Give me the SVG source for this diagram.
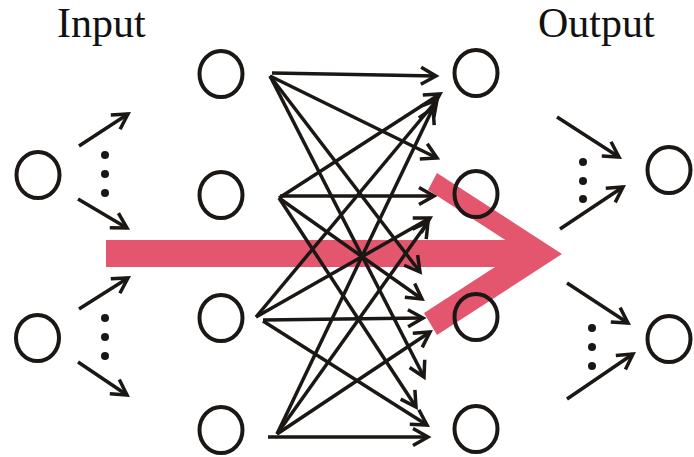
<svg xmlns="http://www.w3.org/2000/svg" width="694" height="457" viewBox="0 0 694 457">
  <style>
    .node { fill: none; stroke: #1b1714; stroke-width: 4; }
    .edge { fill: none; stroke: #1b1714; stroke-width: 3.5; stroke-linecap: butt; marker-end: url(#head); }
    .dot { fill: #1b1714; }
    .label { font-family: "Liberation Serif", "Times New Roman", serif; font-size: 42px; fill: #111; }
    .flow { fill: #e4566e; }
  </style>
  <defs>
    <marker id="head" markerUnits="userSpaceOnUse" markerWidth="30" markerHeight="30" viewBox="-20 -15 30 30" refX="0" refY="0" orient="auto" overflow="visible">
      <path d="M-15,-8.5 L0,0 L-15,8.5" fill="none" stroke="#1b1714" stroke-width="3.5" stroke-linejoin="miter"/>
    </marker>
  </defs>
  <rect width="694" height="457" fill="#fff"/>

  <!-- broad data-flow arrow behind the network -->
  <g id="flow-arrow" class="flow">
    <rect x="106" y="240" width="426" height="27"/>
    <polygon points="437,173 562,254 527,254 428,190"/>
    <polygon points="437,335 562,254 515,254 424,313"/>
  </g>

  <!-- labels -->
  <text class="label" x="57" y="37">Input</text>
  <text class="label" x="538" y="37">Output</text>

  <g id="connectors">
    <!-- input fan-out -->
    <line class="edge" x1="79" y1="146" x2="128" y2="114"/>
    <line class="edge" x1="78" y1="199" x2="127" y2="228"/>
    <line class="edge" x1="79" y1="309" x2="128" y2="278"/>
    <line class="edge" x1="78" y1="362" x2="127" y2="395"/>
    <!-- hidden layer 1 to hidden layer 2 -->
    <line class="edge" x1="272" y1="73" x2="436" y2="76"/>
    <line class="edge" x1="270" y1="76" x2="437" y2="158"/>
    <line class="edge" x1="270" y1="76" x2="420" y2="272"/>
    <line class="edge" x1="270" y1="76" x2="424" y2="377"/>
    <line class="edge" x1="279" y1="198" x2="440" y2="94"/>
    <line class="edge" x1="280" y1="196" x2="434" y2="196"/>
    <line class="edge" x1="279" y1="198" x2="422" y2="299"/>
    <line class="edge" x1="279" y1="198" x2="416" y2="407"/>
    <line class="edge" x1="256" y1="317" x2="437" y2="100"/>
    <line class="edge" x1="256" y1="317" x2="430" y2="218"/>
    <line class="edge" x1="263" y1="320" x2="423" y2="318"/>
    <line class="edge" x1="263" y1="321" x2="427" y2="425"/>
    <line class="edge" x1="277" y1="434" x2="433" y2="108"/>
    <line class="edge" x1="277" y1="434" x2="428" y2="222"/>
    <line class="edge" x1="277" y1="434" x2="430" y2="332"/>
    <line class="edge" x1="268" y1="437" x2="428" y2="437"/>
    <!-- output fan-in -->
    <line class="edge" x1="557" y1="117" x2="619" y2="157"/>
    <line class="edge" x1="560" y1="229" x2="623" y2="187"/>
    <line class="edge" x1="567" y1="283" x2="628" y2="323"/>
    <line class="edge" x1="567" y1="399" x2="633" y2="354"/>
  </g>

  <!-- ellipsis marks -->
  <g id="ellipsis-in-1" class="dot">
    <circle cx="105" cy="155" r="4"/><circle cx="105" cy="174" r="4"/><circle cx="105" cy="193" r="4"/>
  </g>
  <g id="ellipsis-in-2" class="dot">
    <circle cx="105" cy="318" r="4"/><circle cx="105" cy="337" r="4"/><circle cx="105" cy="356" r="4"/>
  </g>
  <g id="ellipsis-out-1" class="dot">
    <circle cx="583" cy="162" r="4"/><circle cx="583" cy="181" r="4"/><circle cx="583" cy="199" r="4"/>
  </g>
  <g id="ellipsis-out-2" class="dot">
    <circle cx="592" cy="328" r="4"/><circle cx="592" cy="347" r="4"/><circle cx="592" cy="366" r="4"/>
  </g>

  <!-- nodes -->
  <g id="in-1"><ellipse class="node" cx="38" cy="175" rx="21.5" ry="23"/></g>
  <g id="in-2"><ellipse class="node" cx="37.5" cy="338" rx="21.5" ry="23"/></g>

  <g id="h1-1"><ellipse class="node" cx="221" cy="74" rx="21.5" ry="23"/></g>
  <g id="h1-2"><ellipse class="node" cx="221" cy="195" rx="21.5" ry="23"/></g>
  <g id="h1-3"><ellipse class="node" cx="221" cy="318" rx="21.5" ry="23"/></g>
  <g id="h1-4"><ellipse class="node" cx="221" cy="430" rx="21.5" ry="23"/></g>

  <g id="h2-1"><ellipse class="node" cx="476" cy="73" rx="21.5" ry="23"/></g>
  <g id="h2-2"><ellipse class="node" cx="476" cy="194" rx="21.5" ry="23"/></g>
  <g id="h2-3"><ellipse class="node" cx="476" cy="317" rx="21.5" ry="23"/></g>
  <g id="h2-4"><ellipse class="node" cx="476" cy="429" rx="21.5" ry="23"/></g>

  <g id="out-1"><ellipse class="node" cx="669" cy="170" rx="21.5" ry="23"/></g>
  <g id="out-2"><ellipse class="node" cx="669" cy="339" rx="21.5" ry="23"/></g>
</svg>
